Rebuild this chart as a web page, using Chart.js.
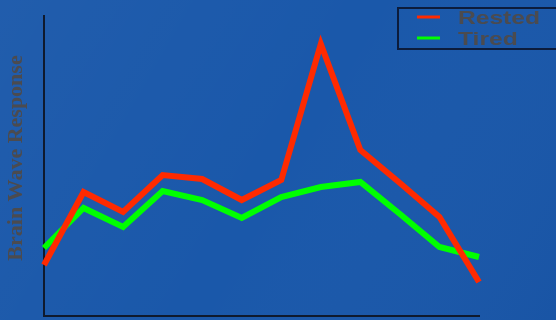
<!DOCTYPE html>
<html>
<head>
<meta charset="utf-8">
<script src="https://cdn.jsdelivr.net/npm/chart.js@4/dist/chart.umd.min.js"></script>
<style>
  html, body { margin: 0; padding: 0; background: #1b5aae; }
  #wrap { width: 556px; height: 320px; position: relative; }
</style>
</head>
<body>
<div id="wrap"><canvas id="c" width="556" height="320"></canvas></div>
<script>
// Measurement points along the session
const categories = ['1', '2', '3', '4', '5', '6', '7', '8', '9', '10', '11', '12'];
const rested = [51, 124, 104, 141, 137, 116, 136, 272, 166, 133, 99, 34];
const tired  = [68, 108, 89, 125, 116, 98, 119, 129, 134, 102, 69, 59];
const seriesNames = ['Rested', 'Tired'];
const seriesColors = ['#ff2a00', '#00ff00'];
const axisTitle = 'Brain Wave Response';

// Blue backdrop behind the whole canvas
const backdrop = {
  id: 'backdrop',
  beforeDraw(chart) {
    const { ctx, width, height } = chart;
    ctx.save();
    ctx.fillStyle = '#1a58aa';
    ctx.fillRect(0, 0, width, height);
    const g = ctx.createLinearGradient(0, 0, width, height);
    g.addColorStop(0, 'rgba(255,255,255,0.03)');
    g.addColorStop(0.5, 'rgba(255,255,255,0.0)');
    g.addColorStop(1, 'rgba(0,0,40,0.04)');
    ctx.fillStyle = g;
    ctx.fillRect(0, 0, width, height);
    ctx.restore();
  }
};

// Rotated axis title and the boxed legend in the top-right corner
const annotations = {
  id: 'annotations',
  afterDraw(chart) {
    const { ctx } = chart;
    ctx.save();

    // y-axis title
    ctx.translate(16, 158);
    ctx.rotate(-Math.PI / 2);
    ctx.font = 'bold 22px "Liberation Serif", "Times New Roman", serif';
    ctx.fillStyle = '#4b4b4f';
    ctx.textAlign = 'center';
    ctx.textBaseline = 'middle';
    ctx.fillText(axisTitle, 0, 0);
    ctx.restore();

    // legend box
    ctx.save();
    ctx.strokeStyle = '#0c1c3c';
    ctx.lineWidth = 2;
    ctx.strokeRect(398, 8, 170, 41);

    ctx.font = 'bold 19px "Liberation Sans", Arial, sans-serif';
    const stretch = 82 / ctx.measureText(seriesNames[0]).width;
    const rows = [17, 38];
    chart.data.datasets.forEach((ds, i) => {
      ctx.strokeStyle = ds.borderColor;
      ctx.lineWidth = 3;
      ctx.beginPath();
      ctx.moveTo(417, rows[i]);
      ctx.lineTo(440, rows[i]);
      ctx.stroke();

      ctx.save();
      ctx.translate(458, rows[i] + 7);
      ctx.scale(stretch, 1);
      ctx.fillStyle = '#4b4b4f';
      ctx.textBaseline = 'alphabetic';
      ctx.fillText(ds.label, 0, 0);
      ctx.restore();
    });
    ctx.restore();
  }
};

new Chart(document.getElementById('c'), {
  type: 'line',
  data: {
    labels: categories,
    datasets: [
      {
        label: seriesNames[0],
        data: rested,
        borderColor: seriesColors[0],
        borderWidth: 6,
        borderJoinStyle: 'miter',
        pointRadius: 0,
        tension: 0,
        fill: false
      },
      {
        label: seriesNames[1],
        data: tired,
        borderColor: seriesColors[1],
        borderWidth: 6,
        borderJoinStyle: 'miter',
        pointRadius: 0,
        tension: 0,
        fill: false
      }
    ]
  },
  options: {
    responsive: false,
    animation: false,
    devicePixelRatio: 1,
    layout: { padding: { left: 44, right: 77, top: 16, bottom: 4 } },
    plugins: {
      legend: { display: false },
      tooltip: { enabled: false }
    },
    scales: {
      x: {
        offset: false,
        grid: { display: false, drawTicks: false },
        ticks: { display: false },
        border: { display: true, color: '#0f1a2e', width: 2 }
      },
      y: {
        min: 0,
        max: 300,
        grid: { display: false, drawTicks: false },
        ticks: { display: false },
        border: { display: true, color: '#0f1a2e', width: 2 }
      }
    }
  },
  plugins: [backdrop, annotations]
});
</script>
</body>
</html>
